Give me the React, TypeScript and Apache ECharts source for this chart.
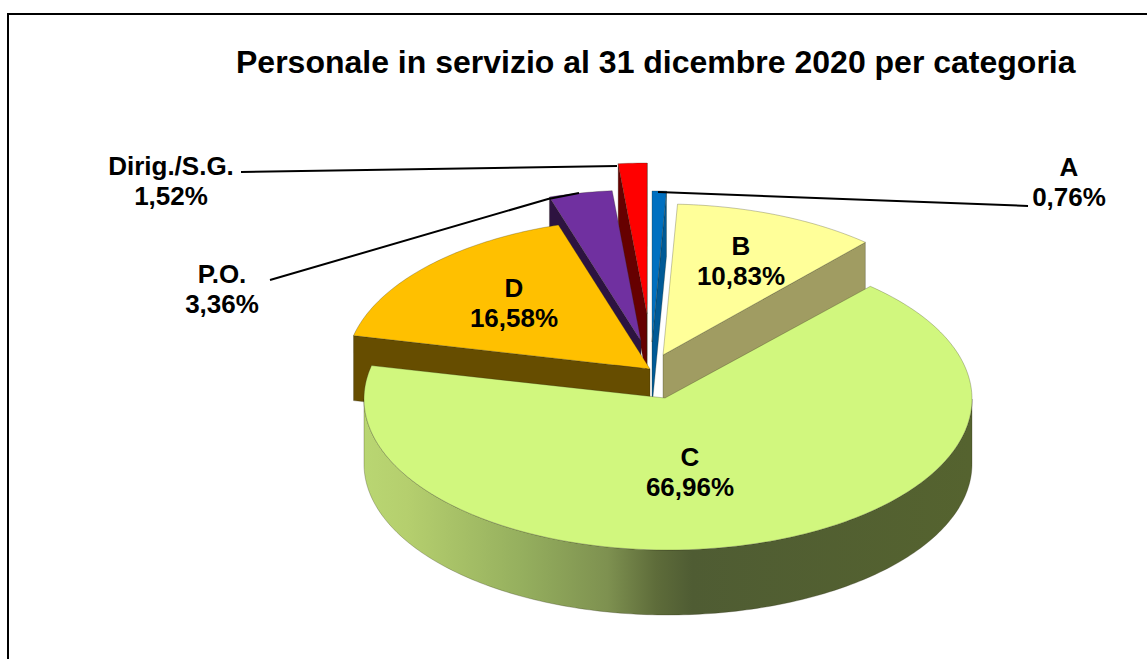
import React, { useEffect, useRef } from "react";
import * as echarts from "echarts";

const titleText = "Personale in servizio al 31 dicembre 2020 per categoria";
const categories = ["A", "B", "C", "D", "P.O.", "Dirig./S.G."];
const shares = [0.76, 10.83, 66.96, 16.58, 3.36, 1.52];
const topColors = ["#0070C0", "#FFFF99", "#D1F77E", "#FFC000", "#7030A0", "#FF0000"];
const wallColors = ["#005A96", "#A09C62", "#A0B85E", "#664D00", "#2D1340", "#660000"];
const layerOf = [3, 4, 5, 2, 1, 0];

// Exploded apex of each wedge (screen pixels), top-ellipse radii and extrusion depth
const apexes = [[652, 342], [663, 355], [665, 398], [650, 369], [641, 341], [647, 314]];
const RX = 304;
const RY = 151;
const DEPTH = 65;
// C wedge's rim follows an ellipse centred slightly off its apex
const rimCentres = [[652, 342], [663, 355], [668, 399], [650, 369], [641, 341], [647, 314]];

const labelPlaces = [[1069, 182], [741, 261], [690, 472], [514, 303], [222, 289], [171, 181]];

const leaders = [
  [[1028, 206], [658, 192]],
  [[270, 280], [548, 199], [579, 193]],
  [[241, 172], [617, 166]],
];

const wallGradient = [
  [0, "#B9D672"],
  [0.07, "#B5CF6E"],
  [0.26, "#95AF5E"],
  [0.4, "#7E9150"],
  [0.48, "#5E6C3A"],
  [0.54, "#4F5C33"],
  [1, "#55632F"],
];

const fmt = (v: number) => v.toFixed(2).replace(".", ",") + "%";
const rad = (d: number) => (d * Math.PI) / 180;

function renderSlice(params: any, api: any) {
  const i = params.dataIndex;
  let start = 0;
  for (let k = 0; k < i; k++) start += shares[k];
  start = (start / 100) * 360;
  const end = start + (api.value(1) / 100) * 360;
  const [ax, ay] = apexes[i];
  const [cx, cy] = rimCentres[i];
  const rim = (t: number) => [cx + RX * Math.sin(rad(t)), cy - RY * Math.cos(rad(t))];
  const arc = (a: number, b: number) => {
    const out: number[][] = [];
    const n = Math.max(2, Math.ceil(Math.abs(b - a)));
    for (let k = 0; k <= n; k++) out.push(rim(a + ((b - a) * k) / n));
    return out;
  };
  const down = (p: number[]) => [p[0], p[1] + DEPTH];
  const z = layerOf[i] * 10;
  const kids: any[] = [];
  const edge = "rgba(40,40,20,0.45)";
  const addFace = (pts: number[][], fill: any, z2: number, line = edge) =>
    kids.push({
      type: "polygon",
      z2,
      shape: { points: pts },
      style: { fill, stroke: line, lineWidth: 0.6 },
    });
  if (Math.sin(rad(start)) < -1e-6) {
    const p = rim(start);
    addFace([[ax, ay], p, down(p), [ax, ay + DEPTH]], wallColors[i], z);
  }
  if (Math.sin(rad(end)) > 1e-6) {
    const p = rim(end);
    addFace([[ax, ay], p, down(p), [ax, ay + DEPTH]], wallColors[i], z);
  }
  const a = Math.max(start, 90);
  const b = Math.min(end, 270);
  if (b > a) {
    const top = arc(a, b);
    addFace(
      [...top, ...top.slice().reverse().map(down)],
      new echarts.graphic.LinearGradient(
        0, 0, 1, 0,
        wallGradient.map(([offset, color]) => ({ offset: offset as number, color: color as string }))
      ),
      z + 1
    );
  }
  addFace([[ax, ay], ...arc(start, end)], topColors[i], z + 2);
  return { type: "group", children: kids };
}

export default function App() {
  const ref = useRef<HTMLDivElement>(null);
  useEffect(() => {
    const chart = echarts.init(ref.current!, null, { renderer: "svg" });
    const font = '"Liberation Sans", Arial, sans-serif';
    chart.setOption({
      animation: false,
      backgroundColor: "#ffffff",
      title: {
        text: titleText,
        left: 231,
        top: 41,
        textStyle: { fontFamily: font, fontWeight: "bold", fontSize: 32, color: "#000" },
      },
      series: [
        {
          type: "custom",
          coordinateSystem: "none",
          silent: true,
          data: categories.map((c, i) => [c, shares[i]]),
          renderItem: renderSlice,
        },
      ],
      graphic: [
        {
          type: "rect",
          shape: { x: 8, y: 14, width: 1200, height: 700 },
          style: { fill: "none", stroke: "#000", lineWidth: 2 },
          silent: true,
        },
        ...leaders.map((pts) => ({
          type: "polyline",
          z: 20,
          shape: { points: pts },
          style: { fill: "none", stroke: "#000", lineWidth: 2 },
          silent: true,
        })),
        ...categories.map((c, i) => ({
          type: "text",
          z: 21,
          x: labelPlaces[i][0],
          y: labelPlaces[i][1],
          style: {
            text: c + "\n" + fmt(shares[i]),
            fontFamily: font,
            fontWeight: "bold",
            fontSize: 26,
            lineHeight: 30,
            fill: "#000",
            align: "center",
            verticalAlign: "middle",
          },
          silent: true,
        })),
      ],
    });
    return () => chart.dispose();
  }, []);
  return (
    <div
      ref={ref}
      style={{ position: "absolute", left: 0, top: 0, width: 1147, height: 659 }}
    />
  );
}
